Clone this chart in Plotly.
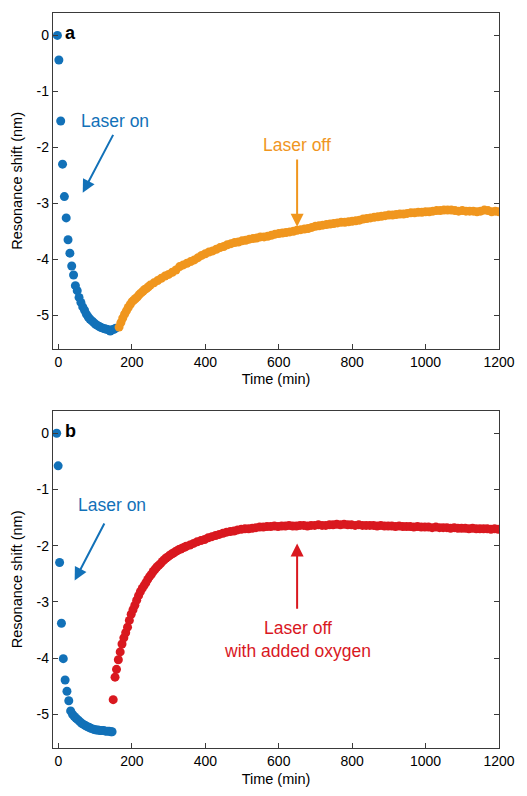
import plotly.graph_objects as go

# ---------------- data ----------------
a_on_t = [-3, 1, 6, 11, 16, 21, 26, 31, 36, 41, 46, 51, 56, 61, 66, 71, 76, 81, 86, 91,
          96, 101, 106, 111, 116, 121, 126, 131, 136, 141, 146, 151, 156]
a_on_y = [0.00, -0.44, -1.53, -2.30, -2.88, -3.26, -3.65, -3.89, -4.12, -4.28, -4.47, -4.56,
          -4.68, -4.77, -4.85, -4.91, -4.98, -5.03, -5.07, -5.10, -5.13, -5.16, -5.18, -5.20,
          -5.22, -5.23, -5.24, -5.25, -5.26, -5.28, -5.26, -5.25, -5.23]

a_off_t = [165, 170, 175, 180, 185, 190, 195, 200, 205, 210, 215, 220, 225, 230, 235, 240,
           245, 250, 260, 270, 280, 290, 300, 310, 320, 330, 340, 350, 360, 370, 380, 390,
           400, 410, 420, 430, 440, 450, 460, 470, 480, 490, 500, 510, 520, 530, 540, 550,
           560, 570, 580, 590, 600, 610, 620, 630, 640, 650, 660, 670, 680, 690, 700, 710,
           720, 730, 740, 750, 760, 770, 780, 790, 800, 810, 820, 830, 840, 850, 860, 870,
           880, 890, 900, 910, 920, 930, 940, 950, 960, 970, 980, 990, 1000, 1010, 1020,
           1030, 1040, 1050, 1060, 1070, 1080, 1090, 1100, 1110, 1120, 1130, 1140, 1150,
           1160, 1170, 1180, 1190, 1200]
a_off_y = [-5.21, -5.13, -5.05, -4.98, -4.92, -4.86, -4.81, -4.76, -4.73, -4.70, -4.67, -4.63,
           -4.60, -4.57, -4.54, -4.52, -4.49, -4.46, -4.42, -4.38, -4.34, -4.30, -4.27, -4.23,
           -4.19, -4.13, -4.10, -4.07, -4.04, -4.01, -3.97, -3.93, -3.90, -3.87, -3.85, -3.82,
           -3.79, -3.77, -3.74, -3.72, -3.70, -3.69, -3.67, -3.66, -3.64, -3.63, -3.62, -3.60,
           -3.60, -3.59, -3.57, -3.55, -3.54, -3.53, -3.52, -3.51, -3.50, -3.48, -3.47, -3.46,
           -3.45, -3.43, -3.41, -3.40, -3.39, -3.38, -3.37, -3.36, -3.35, -3.34, -3.34, -3.33,
           -3.32, -3.31, -3.30, -3.28, -3.27, -3.26, -3.25, -3.24, -3.23, -3.22, -3.21, -3.21,
           -3.20, -3.19, -3.19, -3.18, -3.17, -3.17, -3.16, -3.16, -3.15, -3.15, -3.14, -3.13,
           -3.13, -3.12, -3.12, -3.12, -3.13, -3.14, -3.13, -3.14, -3.14, -3.14, -3.15, -3.14,
           -3.12, -3.13, -3.15, -3.14, -3.15]

b_on_t = [-5, -1, 3, 8, 13, 18, 23, 28, 33, 38, 43, 48, 53, 58, 63, 68, 73, 78, 83, 88, 93,
          98, 103, 108, 113, 118, 123, 128, 133, 138, 143, 146]
b_on_y = [0.00, -0.58, -2.30, -3.38, -4.01, -4.39, -4.59, -4.76, -4.94, -5.00, -5.04, -5.07,
          -5.10, -5.13, -5.16, -5.18, -5.20, -5.22, -5.23, -5.25, -5.26, -5.27, -5.28, -5.28,
          -5.29, -5.29, -5.29, -5.30, -5.30, -5.30, -5.31, -5.31]

b_off_t = [149, 154, 158, 163, 168, 173, 178, 183, 188, 193, 198, 203, 208, 213, 218, 223,
           228, 233, 238, 243, 248, 253, 258, 263, 268, 273, 278, 283, 288, 293, 298, 303,
           308, 313, 318, 323, 328, 333, 338, 343, 348, 358, 368, 378, 388, 398, 408, 418,
           428, 438, 448, 458, 468, 478, 488, 498, 508, 518, 528, 538, 548, 558, 568, 578,
           588, 598, 608, 618, 628, 638, 648, 658, 668, 678, 688, 698, 708, 718, 728, 738,
           748, 758, 768, 778, 788, 798, 808, 818, 828, 838, 848, 858, 868, 878, 888, 898,
           908, 918, 928, 938, 948, 958, 968, 978, 988, 998, 1008, 1018, 1028, 1038, 1048,
           1058, 1068, 1078, 1088, 1098, 1108, 1118, 1128, 1138, 1148, 1158, 1168, 1178,
           1188, 1198]
b_off_y = [-4.74, -4.34, -4.20, -4.03, -3.89, -3.75, -3.64, -3.55, -3.45, -3.33, -3.22, -3.14,
           -3.06, -2.97, -2.89, -2.82, -2.76, -2.71, -2.66, -2.60, -2.55, -2.51, -2.46, -2.42,
           -2.38, -2.35, -2.32, -2.28, -2.25, -2.22, -2.20, -2.17, -2.15, -2.13, -2.11, -2.09,
           -2.07, -2.06, -2.04, -2.03, -2.01, -1.99, -1.96, -1.93, -1.91, -1.89, -1.86, -1.84,
           -1.82, -1.80, -1.78, -1.76, -1.75, -1.74, -1.72, -1.71, -1.70, -1.70, -1.69, -1.68,
           -1.67, -1.67, -1.66, -1.66, -1.65, -1.66, -1.65, -1.65, -1.64, -1.65, -1.65, -1.64,
           -1.64, -1.65, -1.64, -1.64, -1.63, -1.64, -1.64, -1.63, -1.63, -1.62, -1.63, -1.62,
           -1.63, -1.63, -1.64, -1.63, -1.64, -1.64, -1.64, -1.64, -1.65, -1.64, -1.65, -1.65,
           -1.65, -1.66, -1.65, -1.66, -1.66, -1.66, -1.67, -1.66, -1.67, -1.67, -1.67, -1.68,
           -1.67, -1.68, -1.68, -1.68, -1.69, -1.68, -1.69, -1.69, -1.69, -1.70, -1.69, -1.70,
           -1.70, -1.70, -1.70, -1.71, -1.70, -1.71]

x_ticks = [0, 200, 400, 600, 800, 1000, 1200]
y_ticks = [0, -1, -2, -3, -4, -5]
y_tick_text = ["0", "-1", "-2", "-3", "-4", "-5"]

BLUE = "#1271b8"
ORANGE = "#f0961e"
RED = "#d9181f"
FONT = "Liberation Sans, Arial, Helvetica, sans-serif"

fig = go.Figure()

def scat(t, y, color, xa, ya):
    fig.add_trace(go.Scatter(x=t, y=y, mode="markers", xaxis=xa, yaxis=ya,
                             marker=dict(color=color, size=9, line=dict(width=0)),
                             showlegend=False, hoverinfo="skip"))

scat(a_on_t, a_on_y, BLUE, "x", "y")
scat(a_off_t, a_off_y, ORANGE, "x", "y")
scat(b_on_t, b_on_y, BLUE, "x2", "y2")
scat(b_off_t, b_off_y, RED, "x2", "y2")

axis_common = dict(showline=True, linecolor="#3a3a3a", linewidth=1.3, ticks="inside",
                   ticklen=5, tickwidth=1, tickcolor="#3a3a3a", showgrid=False, zeroline=False,
                   tickfont=dict(size=14, color="black", family=FONT))

fig.update_layout(
    width=527, height=796,
    margin=dict(l=53, r=19, t=13, b=41),
    paper_bgcolor="white", plot_bgcolor="white",
    font=dict(family=FONT, color="black"),
    xaxis=dict(domain=[0, 1], anchor="y", range=[-15, 1200], tickvals=x_ticks, mirror=True,
               title=dict(text="Time (min)", font=dict(size=14.5), standoff=5), **axis_common),
    yaxis=dict(domain=[0.543, 1.0], anchor="x", range=[-5.6, 0.4], tickvals=y_ticks,
               ticktext=y_tick_text, mirror="ticks",
               title=dict(text="Resonance shift (nm)", font=dict(size=14.5), standoff=10),
               **axis_common),
    xaxis2=dict(domain=[0, 1], anchor="y2", range=[-15, 1200], tickvals=x_ticks, mirror=True,
                title=dict(text="Time (min)", font=dict(size=14.5), standoff=5), **axis_common),
    yaxis2=dict(domain=[0, 0.4588], anchor="x2", range=[-5.6, 0.4], tickvals=y_ticks,
                ticktext=y_tick_text, mirror="ticks",
                title=dict(text="Resonance shift (nm)", font=dict(size=14.5), standoff=10),
                **axis_common),
)

def arrow(xr, yr, tip, tail, color):
    fig.add_annotation(x=tip[0], y=tip[1], ax=tail[0], ay=tail[1], xref=xr, yref=yr,
                       axref=xr, ayref=yr, text="", showarrow=True, arrowhead=2,
                       arrowsize=1.3, arrowwidth=2, arrowcolor=color, standoff=0)

def label(xr, yr, x, y, text, color, size=17.5, bold=False, xanchor="center"):
    if bold:
        text = "<b>" + text + "</b>"
    fig.add_annotation(x=x, y=y, xref=xr, yref=yr, text=text, showarrow=False,
                       font=dict(size=size, color=color, family=FONT), xanchor=xanchor,
                       yanchor="middle")

# panel a
label("x", "y", 12, 0.04, "a", "black", size=18, bold=True, xanchor="left")
label("x", "y", 154, -1.53, "Laser on", BLUE)
arrow("x", "y", (66, -2.81), (151, -1.75), BLUE)
label("x", "y", 650, -1.95, "Laser off", ORANGE)
arrow("x", "y", (650, -3.42), (650, -2.19), ORANGE)

# panel b
label("x2", "y2", 12, 0.04, "b", "black", size=18, bold=True, xanchor="left")
label("x2", "y2", 147, -1.28, "Laser on", BLUE)
arrow("x2", "y2", (44, -2.62), (127, -1.58), BLUE)
label("x2", "y2", 650, -3.665, "Laser off<br>with added oxygen", RED)
arrow("x2", "y2", (650, -1.96), (650, -3.15), RED)

post = ("var d=document.getElementById('{plot_id}');"
        "d.style.position='fixed';d.style.top='0px';d.style.left='0px';"
        "document.body.style.margin='0';document.body.style.overflow='hidden';"
        "document.documentElement.style.overflow='hidden';")

fig.write_html("out.html", config={"displayModeBar": False}, post_script=post)
